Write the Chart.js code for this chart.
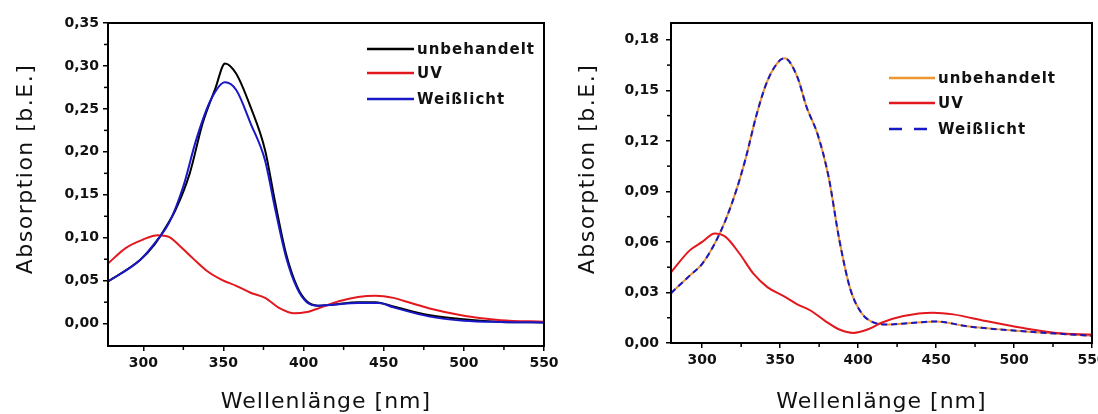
<!DOCTYPE html>
<html><head><meta charset="utf-8">
<script src="https://cdn.jsdelivr.net/npm/chart.js@4/dist/chart.umd.min.js"></script>
<style>
html,body{margin:0;padding:0;background:#fff;}
#wrap{position:relative;width:1098px;height:414px;overflow:hidden;}
.c{position:absolute;top:0;height:414px;}
</style></head><body>
<div id="wrap">
<div class="c" style="left:0;width:575px"><canvas id="c1"></canvas></div>
<div class="c" style="left:549px;width:549px"><canvas id="c2"></canvas></div>
</div>
<script>
// ---------- DATA ----------
const seriesNames = ['unbehandelt', 'UV', 'Weißlicht'];
const xAxisTitle = 'Wellenlänge [nm]';
const yAxisTitle = 'Absorption [b.E.]';
const xTicks = [300, 350, 400, 450, 500, 550];
const xMinorTicks = [325, 375, 425, 475, 525];
const yTicksLeft = [0, 0.05, 0.10, 0.15, 0.20, 0.25, 0.30, 0.35];
const yMinorTicksLeft = [0.025, 0.075, 0.125, 0.175, 0.225, 0.275, 0.325];
const yTicksRight = [0, 0.03, 0.06, 0.09, 0.12, 0.15, 0.18];
const yMinorTicksRight = [0.015, 0.045, 0.075, 0.105, 0.135, 0.165];

// left panel
const wlLeftUnbeh = [278,298,307,313,320,329,337,345,351,358,367,376,382,389,396,402,409,418,434,445,456,478,500,523,550];
const absLeftUnbeh = [0.049,0.074,0.092,0.109,0.132,0.175,0.233,0.274,0.303,0.291,0.252,0.202,0.144,0.082,0.043,0.026,0.021,0.022,0.025,0.025,0.020,0.010,0.005,0.002,0.0015];
const wlLeftUV = [278,289,300,309,316,322,331,340,349,358,367,376,385,394,402,411,422,434,445,456,467,478,500,523,550];
const absLeftUV = [0.070,0.088,0.098,0.103,0.101,0.092,0.076,0.061,0.051,0.044,0.036,0.030,0.018,0.012,0.0135,0.019,0.026,0.031,0.0325,0.030,0.024,0.018,0.0093,0.004,0.0023];
const wlLeftWeiss = [278,298,309,316,325,333,342,351,358,367,376,382,389,396,402,409,418,434,447,456,478,500,523,550];
const absLeftWeiss = [0.049,0.074,0.098,0.117,0.160,0.214,0.260,0.281,0.272,0.233,0.190,0.136,0.078,0.041,0.025,0.021,0.022,0.024,0.024,0.019,0.0085,0.0035,0.002,0.0015];

// right panel
const wlRightUnbeh = [280,292,300,308,315,322,328,335,342,350,353,361,367,374,381,388,395,402,408,418,436,450,470,493,516,550];
const absRightUnbeh = [0.0296,0.040,0.047,0.059,0.073,0.091,0.110,0.136,0.156,0.168,0.169,0.158,0.140,0.124,0.099,0.061,0.032,0.018,0.013,0.011,0.012,0.0128,0.0099,0.0079,0.0063,0.0043];
const wlRightUV = [280,292,300,308,315,324,333,342,352,361,370,379,388,397,406,415,429,448,461,482,505,527,550];
const absRightUV = [0.042,0.055,0.060,0.065,0.063,0.053,0.041,0.033,0.028,0.023,0.019,0.013,0.008,0.006,0.008,0.012,0.016,0.018,0.017,0.013,0.009,0.006,0.005];
const wlRightWeiss = wlRightUnbeh.slice();
const absRightWeiss = absRightUnbeh.slice();

// ---------- HELPERS ----------
const pts = (xs, ys) => xs.map((x, i) => ({x: x, y: ys[i]}));
const fmt = v => v.toFixed(2).replace('.', ',');
const TICKFONT = {family: 'DejaVu Sans', weight: 'bold', size: 14};

function framePlugin(cfg) {
  return {
    id: 'frame',
    afterDraw(chart) {
      const ctx = chart.ctx, a = chart.chartArea;
      ctx.save();
      ctx.strokeStyle = '#000'; ctx.lineWidth = 2;
      ctx.strokeRect(a.left, a.top, a.right - a.left, a.bottom - a.top);
      ctx.lineWidth = 1.5;
      const xs = chart.scales.x, ys = chart.scales.y;
      cfg.xMinor.forEach(v => { const px = xs.getPixelForValue(v);
        ctx.beginPath(); ctx.moveTo(px, a.bottom); ctx.lineTo(px, a.bottom + 4); ctx.stroke(); });
      cfg.yMinor.forEach(v => { const py = ys.getPixelForValue(v);
        ctx.beginPath(); ctx.moveTo(a.left, py); ctx.lineTo(a.left - 4, py); ctx.stroke(); });
      ctx.fillStyle = '#111';
      ctx.font = '22px "DejaVu Sans"';
      try { ctx.letterSpacing = '1px'; } catch (e) {}
      ctx.textAlign = 'center'; ctx.textBaseline = 'alphabetic';
      ctx.fillText(xAxisTitle, (a.left + a.right) / 2, 408);
      ctx.save();
      try { ctx.letterSpacing = '1.5px'; } catch (e) {}
      ctx.translate(cfg.yTitleX, 169);
      ctx.rotate(-Math.PI / 2);
      ctx.textBaseline = 'middle';
      ctx.fillText(yAxisTitle, 0, 0);
      ctx.restore();
      ctx.font = 'bold 15px "DejaVu Sans"';
      try { ctx.letterSpacing = '1px'; } catch (e) {}
      ctx.textAlign = 'left'; ctx.textBaseline = 'middle';
      chart.data.datasets.forEach((ds, i) => {
        const y = cfg.legY[i];
        ctx.strokeStyle = ds.borderColor; ctx.lineWidth = 2.5;
        ctx.setLineDash(ds.legendDash || []);
        ctx.beginPath(); ctx.moveTo(cfg.legX0, y); ctx.lineTo(cfg.legX1, y); ctx.stroke();
        ctx.setLineDash([]);
        ctx.fillStyle = '#111';
        ctx.fillText(ds.label, cfg.legX1 + 3, y + 1);
      });
      ctx.restore();
    }
  };
}

function makeChart(id, datasets, opt) {
  return new Chart(document.getElementById(id), {
    type: 'line',
    data: {datasets: datasets},
    options: {
      responsive: true, maintainAspectRatio: false, animation: false,
      layout: {padding: {left: 0, right: opt.padRight, top: 23, bottom: 0}},
      elements: {point: {radius: 0}, line: {borderWidth: 2, cubicInterpolationMode: 'monotone'}},
      plugins: {legend: {display: false}, tooltip: {enabled: false}},
      scales: {
        x: {
          type: 'linear', min: opt.xMin, max: 550,
          afterBuildTicks: s => { s.ticks = xTicks.map(v => ({value: v})); },
          afterFit: s => { s.height = opt.xHeight; s.paddingLeft = 0; s.paddingRight = 0; },
          grid: {drawOnChartArea: false, drawTicks: true, tickLength: 5, color: '#000', lineWidth: 1.5},
          border: {display: true, color: '#000', width: 2},
          ticks: {color: '#111', font: TICKFONT, padding: 4, maxRotation: 0, autoSkip: false,
                  callback: v => String(v)}
        },
        y: {
          type: 'linear', min: opt.yMin, max: opt.yMax,
          afterBuildTicks: s => { s.ticks = opt.yTicks.map(v => ({value: v})); },
          afterFit: s => { s.width = opt.yWidth; s.paddingTop = 0; s.paddingBottom = 0; },
          grid: {drawOnChartArea: false, drawTicks: true, tickLength: 5, color: '#000', lineWidth: 1.5},
          border: {display: true, color: '#000', width: 2},
          ticks: {color: '#111', font: TICKFONT, padding: opt.yPad, autoSkip: false,
                  callback: v => fmt(v)}
        }
      }
    },
    plugins: [framePlugin(opt)]
  });
}

const RED = 'rgb(226,24,30)', BLUE = 'rgb(24,24,200)', BLACK = '#000', ORANGE = 'rgb(236,150,50)';

makeChart('c1', [
  {label: seriesNames[0], data: pts(wlLeftUnbeh, absLeftUnbeh), borderColor: BLACK, order: 2},
  {label: seriesNames[1], data: pts(wlLeftUV, absLeftUV), borderColor: RED, order: 1},
  {label: seriesNames[2], data: pts(wlLeftWeiss, absLeftWeiss), borderColor: BLUE, order: 0}
], {xMin: 278, yMin: -0.026, yMax: 0.35, yTicks: yTicksLeft, yMinor: yMinorTicksLeft, xMinor: xMinorTicks,
    yWidth: 108, xHeight: 68, padRight: 31, yPad: 4, yTitleX: 26,
    legX0: 367, legX1: 414, legY: [49, 73, 99]});

makeChart('c2', [
  {label: seriesNames[0], data: pts(wlRightUnbeh, absRightUnbeh), borderColor: ORANGE, order: 2},
  {label: seriesNames[1], data: pts(wlRightUV, absRightUV), borderColor: RED, order: 1},
  {label: seriesNames[2], data: pts(wlRightWeiss, absRightWeiss), borderColor: BLUE, borderDash: [6, 4], legendDash: [13, 12], order: 0}
], {xMin: 280, yMin: 0, yMax: 0.19, yTicks: yTicksRight, yMinor: yMinorTicksRight, xMinor: xMinorTicks,
    yWidth: 122, xHeight: 71, padRight: 6, yPad: 7, yTitleX: 39,
    legX0: 340, legX1: 386, legY: [78, 103, 129]});
</script>
</body></html>
